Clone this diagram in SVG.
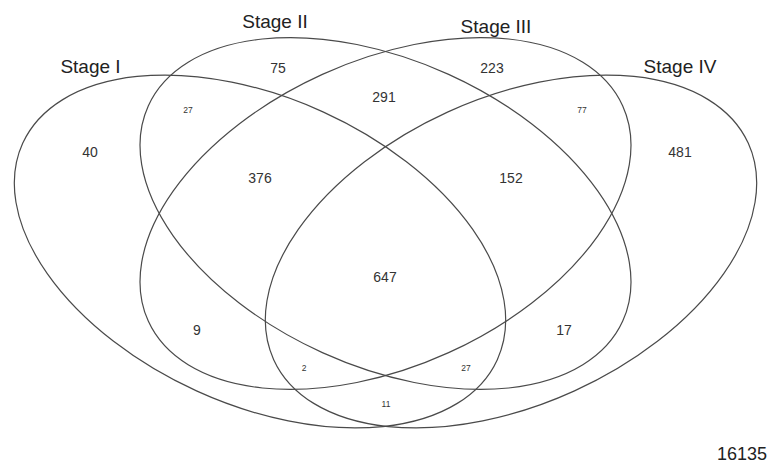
<svg xmlns="http://www.w3.org/2000/svg" width="767" height="465" viewBox="0 0 767 465">
<style>
.set{fill:none;stroke:#4a4a4a;stroke-width:1.2}
.lbl{font-family:"Liberation Sans",Arial,sans-serif;font-size:19px;fill:#222;text-anchor:middle}
.n{font-family:"Liberation Sans",Arial,sans-serif;font-size:14px;fill:#333;text-anchor:middle}
.s{font-family:"Liberation Sans",Arial,sans-serif;font-size:8.5px;fill:#333;text-anchor:middle}
</style>
<rect width="767" height="465" fill="#fff"/>
<g id="stage-i">
<ellipse class="set" cx="260" cy="251.5" rx="260.8" ry="153.2" transform="rotate(24.5 260 251.5)"/>
<text class="lbl" x="90.5" y="73">Stage I</text>
</g>
<g id="stage-ii">
<ellipse class="set" cx="385.5" cy="213.5" rx="260.5" ry="152.8" transform="rotate(24.4 385.5 213.5)"/>
<text class="lbl" x="275" y="28">Stage II</text>
</g>
<g id="stage-iii">
<ellipse class="set" cx="385.5" cy="213.5" rx="260.5" ry="152.8" transform="rotate(-24.4 385.5 213.5)"/>
<text class="lbl" x="496" y="33">Stage III</text>
</g>
<g id="stage-iv">
<ellipse class="set" cx="511" cy="251.5" rx="260.8" ry="153.2" transform="rotate(-24.5 511 251.5)"/>
<text class="lbl" x="680" y="73">Stage IV</text>
</g>
<g id="counts">
<text class="n" x="278" y="73">75</text>
<text class="n" x="384" y="102">291</text>
<text class="n" x="492" y="73">223</text>
<text class="n" x="90" y="157">40</text>
<text class="n" x="680" y="157">481</text>
<text class="n" x="260" y="183">376</text>
<text class="n" x="511" y="183">152</text>
<text class="n" x="385" y="282">647</text>
<text class="n" x="197" y="335">9</text>
<text class="n" x="564" y="335">17</text>
<text class="s" x="188" y="113">27</text>
<text class="s" x="582" y="113">77</text>
<text class="s" x="304" y="371">2</text>
<text class="s" x="466" y="371">27</text>
<text class="s" x="386" y="407">11</text>
<text class="lbl" x="717" y="460" style="text-anchor:start;font-size:18px">16135</text>
</g>
<g id="connectors"/>
</svg>
